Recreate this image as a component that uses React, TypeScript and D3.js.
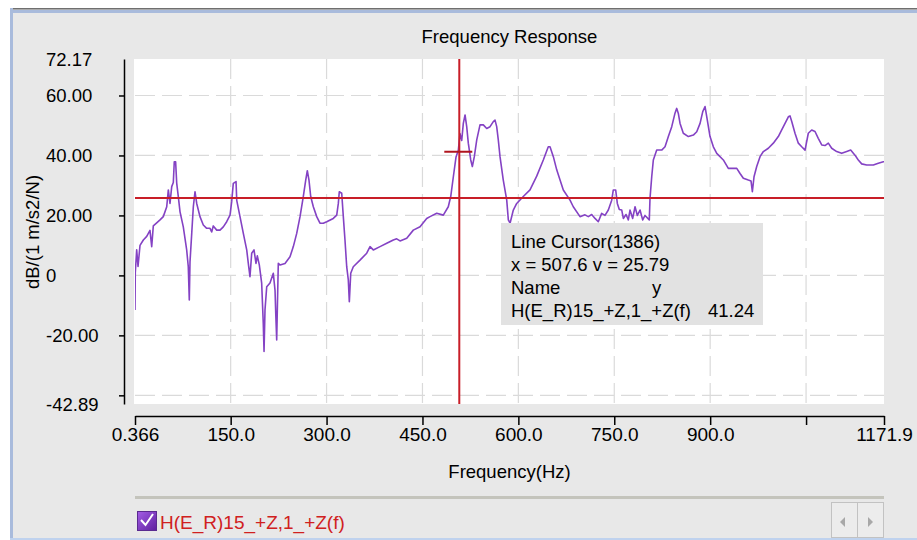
import { useRef, useEffect } from "react";
import * as d3 from "d3";

// frequency response (Hz, dB)
const freq = [
  0.37, 0.8, 3.0, 5.1, 8.2, 13.4, 18.7, 23.8, 26.5, 29.0,
  34.3, 39.5, 44.6, 50.0, 52.5, 55.1, 57.8, 60.3, 61.8, 63.9,
  65.6, 68.1, 70.8, 75.9, 81.2, 83.7, 85.3, 86.4, 89.1, 91.6,
  94.2, 96.9, 102.0, 107.2, 112.5, 117.7, 120.3, 122.8, 128.2, 133.3,
  138.5, 143.8, 149.0, 151.6, 154.1, 158.4, 159.5, 164.6, 169.8, 175.1,
  177.6, 180.2, 182.9, 186.5, 189.6, 191.7, 194.8, 198.5, 201.0, 202.2,
  203.7, 206.4, 211.5, 216.7, 219.4, 220.5, 222.0, 224.5, 227.2, 235.0,
  242.8, 248.0, 253.3, 258.5, 263.6, 267.4, 269.9, 272.5, 275.2, 279.3,
  284.6, 289.7, 294.9, 300.2, 310.5, 315.9, 318.4, 319.9, 323.7, 326.2,
  328.8, 331.5, 334.0, 335.6, 337.8, 341.8, 352.3, 362.8, 368.0, 373.1,
  383.6, 394.1, 404.4, 409.7, 414.9, 425.4, 435.7, 446.2, 456.6, 461.8,
  472.3, 482.6, 490.4, 494.2, 498.3, 502.5, 506.1, 508.7, 511.4, 513.9,
  516.6, 519.2, 521.7, 525.5, 528.0, 531.1, 534.9, 540.0, 545.2, 550.5,
  555.7, 560.8, 563.5, 566.1, 568.6, 571.3, 576.4, 581.8, 584.3, 587.0,
  592.1, 597.4, 607.7, 618.2, 628.7, 639.0, 646.8, 649.5, 654.7, 660.0,
  665.2, 670.3, 680.8, 685.9, 696.4, 704.2, 709.4, 714.7, 719.9, 725.0,
  730.3, 735.5, 740.7, 746.0, 748.5, 752.2, 754.8, 757.9, 761.7, 764.2,
  768.4, 772.0, 774.6, 778.8, 782.5, 786.1, 790.3, 794.5, 798.1, 804.8,
  805.9, 808.6, 811.1, 816.4, 824.2, 829.4, 834.6, 839.9, 845.0, 847.7,
  850.2, 852.9, 858.0, 865.9, 873.7, 879.0, 884.2, 888.4, 892.0, 894.7,
  899.8, 905.0, 910.3, 920.6, 928.4, 941.6, 946.7, 951.9, 959.7, 963.9,
  966.0, 968.6, 972.8, 978.0, 983.2, 991.0, 998.8, 1006.6, 1011.9, 1017.1,
  1022.3, 1024.9, 1027.6, 1032.7, 1037.9, 1043.2, 1048.4, 1053.5, 1058.8, 1064.0,
  1069.1, 1074.5, 1079.6, 1084.8, 1090.1, 1097.9, 1105.7, 1113.6, 1119.8, 1126.5,
  1131.7, 1137.0, 1144.8, 1155.2, 1163.0, 1170.8, 1171.9,
];

const level = [
  -11.5, 0.8, 8.5, 3, 10, 11.8, 13, 15, 9.6, 16.5,
  17.5, 18.5, 19.6, 22.9, 28.5, 24, 29.6, 31, 37.9, 37.9,
  30.8, 26.3, 21.2, 16.2, 8.5, 2.9, -8.2, 4.5, 14, 22.9,
  27.9, 24, 19.6, 16.8, 15.7, 15.7, 14.5, 16.5, 15.1, 15.1,
  16.2, 17.9, 20.1, 24.6, 30.7, 31.3, 25, 19.6, 14, 8.5,
  4, -0.4, 7.4, 8.5, 4, 6.5, 3.5, -2.6, -16, -25.4,
  -11.5, -3.8, -2.5, 0.7, -5, -12.6, -21.5, 4, 3.5, 4,
  6.2, 9.6, 14, 19.6, 26.3, 31.8, 34.9, 31.8, 26.3, 22.9,
  19.6, 17.4, 17.4, 17.9, 19, 20.1, 24, 27.9, 27.4, 19.6,
  11.8, 2.9, -1.5, -8.8, 0.7, 2.9, 5.1, 7.4, 9.6, 8.5,
  9.6, 10.7, 11.8, 12.2, 11.5, 12.4, 15.1, 16.2, 19, 19.6,
  20.7, 20.1, 22.9, 26.3, 32.9, 39.5, 41.7, 47.3, 45, 50.7,
  53.5, 49.6, 44.1, 38.5, 36.3, 39.6, 45.2, 50.2, 50.2, 49,
  49.6, 51.3, 51.8, 49.6, 45.2, 39.6, 31.8, 25.1, 18.5, 17.4,
  21.8, 24, 26.3, 28.5, 33.1, 38.5, 42.9, 42.9, 39.6, 35.2,
  31.8, 28.5, 25.1, 22.9, 19.6, 20.2, 19.6, 20.3, 19, 17.9,
  20.7, 20, 21.8, 25.1, 28.5, 28.5, 24, 22, 21.8, 19,
  20.3, 18.5, 21.8, 19, 22.9, 20, 21.8, 18.5, 20, 18.5,
  25.7, 32.9, 38.5, 41.8, 41.8, 42.9, 46.3, 49.6, 54.1, 55.7,
  54, 50.7, 47.4, 46.3, 46.8, 47.9, 50.7, 54.6, 56.3, 52.9,
  46.3, 42.9, 40.7, 38.5, 35.7, 35.7, 34, 32.4, 31.8, 31.5,
  27.9, 32.9, 36.3, 39.6, 41.3, 42.4, 44.1, 46.3, 48.5, 50.7,
  52.9, 53.2, 51.3, 47.4, 44.1, 42.9, 41.8, 47.4, 48.5, 48,
  45.7, 43.5, 43.3, 44.1, 42.4, 41.3, 40.7, 41.3, 41.8, 40.1,
  38.5, 37.2, 36.8, 36.8, 37.4, 37.9, 37.9,
];

const xDomain = [0.366, 1171.9];
const yDomain = [-42.89, 72.17];
const xTicks = [0.366, 150, 300, 450, 600, 750, 900, 1050, 1171.9];
const xTickLabels = ["0.366", "150.0", "300.0", "450.0", "600.0", "750.0", "900.0", "", "1171.9"];
const yTicks = [60, 40, 20, 0, -20, -40];
const yLabelValues = [72.17, 60, 40, 20, 0, -20, -42.89];
const yTickLabels = ["72.17", "60.00", "40.00", "20.00", "0", "-20.00", "-42.89"];

const cursorX = 507.6;
const cursorY = 25.79;
const cursorValue = 41.24;
const cursorIndex = 1386;
const seriesName = "H(E_R)15_+Z,1_+Z(f)";

const W = 917;
const H = 540;
const FONT = '"Liberation Sans", Arial, sans-serif';
const plot = { left: 135, right: 884, top: 59, bottom: 404 };

function FrequencyResponse() {
  const svgRef = useRef(null);

  useEffect(() => {
    d3.select("body").style("margin", "0");
    const svg = d3.select(svgRef.current);
    svg.selectAll("*").remove();
    svg.attr("width", W).attr("height", H).style("display", "block").style("font-family", FONT);

    const x = d3.scaleLinear().domain(xDomain).range([plot.left, plot.right]);
    const y = d3.scaleLinear().domain(yDomain).range([plot.bottom, plot.top]);

    // window frame
    svg.append("rect").attr("width", W).attr("height", H).attr("fill", "#ffffff");
    svg.append("rect").attr("x", 10).attr("y", 8).attr("width", W - 10).attr("height", H - 8).attr("fill", "#e8e8e8");
    svg.append("rect").attr("x", 10).attr("y", 8).attr("width", W - 10).attr("height", 1.5).attr("fill", "#6f6f6f");
    svg.append("rect").attr("x", 10).attr("y", 10).attr("width", W - 10).attr("height", 3).attr("fill", "#a9bbdc");
    svg.append("rect").attr("x", 10).attr("y", 8).attr("width", 3).attr("height", H - 8).attr("fill", "#a9bbdc");
    svg.append("rect").attr("x", 10).attr("y", H - 2).attr("width", W - 10).attr("height", 2).attr("fill", "#bfd2ee");

    // title
    svg.append("text")
      .attr("x", (plot.left + plot.right) / 2)
      .attr("y", 43)
      .attr("text-anchor", "middle")
      .attr("font-size", 18.5)
      .attr("fill", "#000")
      .text("Frequency Response");

    // plot area + grid
    svg.append("rect")
      .attr("x", plot.left - 1)
      .attr("y", plot.top)
      .attr("width", plot.right - plot.left + 1)
      .attr("height", plot.bottom - plot.top)
      .attr("fill", "#ffffff");

    const grid = svg.append("g").attr("stroke", "#dadada").attr("stroke-width", 1.2).attr("stroke-dasharray", "20,7");
    grid.selectAll(".gx")
      .data(xTicks.slice(1, -1))
      .join("line")
      .attr("class", "gx")
      .attr("x1", (d) => x(d))
      .attr("x2", (d) => x(d))
      .attr("y1", plot.top)
      .attr("y2", plot.bottom);
    grid.selectAll(".gy")
      .data(yTicks)
      .join("line")
      .attr("class", "gy")
      .attr("x1", plot.left)
      .attr("x2", plot.right)
      .attr("y1", (d) => y(d))
      .attr("y2", (d) => y(d));

    // x axis
    svg.append("g")
      .attr("transform", "translate(0,416)")
      .call(
        d3.axisBottom(x)
          .tickValues(xTicks)
          .tickSize(9)
          .tickSizeOuter(0)
          .tickPadding(3)
          .tickFormat((d, i) => xTickLabels[i])
      )
      .call((g) => g.attr("font-family", FONT).attr("font-size", 19))
      .call((g) => g.select(".domain").attr("stroke", "#000").attr("stroke-width", 1.5))
      .call((g) => g.selectAll(".tick line").attr("stroke", "#000").attr("stroke-width", 1.5))
      .call((g) => g.selectAll(".tick text").attr("fill", "#000"));

    // y axis (labels are left aligned in the original)
    svg.append("g")
      .attr("transform", "translate(124,0)")
      .call(d3.axisLeft(y).tickValues(yTicks).tickSize(5).tickSizeOuter(0).tickFormat(() => ""))
      .call((g) => g.select(".domain").attr("stroke", "#000").attr("stroke-width", 1.5))
      .call((g) => g.selectAll(".tick line").attr("stroke", "#000").attr("stroke-width", 1.5));

    svg.append("g")
      .selectAll("text")
      .data(yLabelValues)
      .join("text")
      .attr("x", 46)
      .attr("y", (d) => y(d) + 7)
      .attr("font-size", 18.5)
      .attr("fill", "#000")
      .text((d, i) => yTickLabels[i]);

    svg.append("text")
      .attr("transform", "translate(39,232) rotate(-90)")
      .attr("text-anchor", "middle")
      .attr("font-size", 18.5)
      .attr("fill", "#000")
      .text("dB/(1 m/s2/N)");

    svg.append("text")
      .attr("x", (plot.left + plot.right) / 2)
      .attr("y", 478)
      .attr("text-anchor", "middle")
      .attr("font-size", 18.5)
      .attr("fill", "#000")
      .text("Frequency(Hz)");

    // curve
    svg.append("clipPath")
      .attr("id", "plot-clip")
      .append("rect")
      .attr("x", plot.left)
      .attr("y", plot.top)
      .attr("width", plot.right - plot.left)
      .attr("height", plot.bottom - plot.top);

    const line = d3.line()
      .x((d) => x(d[0]))
      .y((d) => y(d[1]));

    svg.append("path")
      .datum(d3.zip(freq, level))
      .attr("clip-path", "url(#plot-clip)")
      .attr("fill", "none")
      .attr("stroke", "#8442c4")
      .attr("stroke-width", 1.6)
      .attr("stroke-linejoin", "round")
      .attr("d", line);

    // line cursor
    const red = "#c81e28";
    svg.append("line")
      .attr("x1", plot.left).attr("x2", plot.right)
      .attr("y1", y(cursorY)).attr("y2", y(cursorY))
      .attr("stroke", red).attr("stroke-width", 2);
    svg.append("line")
      .attr("x1", x(cursorX)).attr("x2", x(cursorX))
      .attr("y1", plot.top).attr("y2", plot.bottom)
      .attr("stroke", red).attr("stroke-width", 2);
    svg.append("line")
      .attr("x1", x(cursorX) - 15).attr("x2", x(cursorX) + 13)
      .attr("y1", y(cursorValue)).attr("y2", y(cursorValue))
      .attr("stroke", "#b0141e").attr("stroke-width", 2);

    // cursor readout
    const box = svg.append("g").attr("font-size", 18.5).attr("fill", "#000");
    box.append("rect")
      .attr("x", 501).attr("y", 223).attr("width", 262).attr("height", 102)
      .attr("fill", "#e2e2e2");
    box.append("text").attr("x", 511).attr("y", 247.5).text(`Line Cursor(${cursorIndex})`);
    box.append("text").attr("x", 511).attr("y", 270.5).text(`x = ${cursorX} v = ${cursorY}`);
    box.append("text").attr("x", 511).attr("y", 293.5).text("Name");
    box.append("text").attr("x", 652).attr("y", 293.5).text("y");
    box.append("text").attr("x", 511).attr("y", 316.5).text(seriesName);
    box.append("text").attr("x", 708).attr("y", 316.5).text(cursorValue.toFixed(2));

    // legend strip
    svg.append("rect").attr("x", plot.left).attr("y", 496).attr("width", plot.right - plot.left).attr("height", 3).attr("fill", "#c4c4bc");

    const grad = svg.append("linearGradient").attr("id", "chk").attr("x1", 0).attr("y1", 0).attr("x2", 1).attr("y2", 1);
    grad.append("stop").attr("offset", "0%").attr("stop-color", "#a45ee6");
    grad.append("stop").attr("offset", "100%").attr("stop-color", "#5e1f9e");
    svg.append("rect").attr("x", 137.5).attr("y", 511.5).attr("width", 19).attr("height", 19).attr("fill", "url(#chk)").attr("stroke", "#5a2a90");
    svg.append("path")
      .attr("d", "M141,520 L145.5,525 L153,514")
      .attr("fill", "none").attr("stroke", "#ffffff").attr("stroke-width", 2);
    svg.append("text")
      .attr("x", 160)
      .attr("y", 529)
      .attr("font-size", 19)
      .attr("fill", "#d02020")
      .text(seriesName);

    const scroll = svg.append("g");
    scroll.append("rect").attr("x", 831.5).attr("y", 502.5).attr("width", 52).attr("height", 35).attr("fill", "#ececec").attr("stroke", "#c2c2c2");
    scroll.append("line").attr("x1", 857.5).attr("x2", 857.5).attr("y1", 503).attr("y2", 537).attr("stroke", "#c2c2c2");
    scroll.append("path").attr("d", "M840,522 L845,517 L845,527 Z").attr("fill", "#a8a8a8");
    scroll.append("path").attr("d", "M868,517 L873,522 L868,527 Z").attr("fill", "#a8a8a8");
  }, []);

  return <svg ref={svgRef} />;
}

export default function App() {
  return <FrequencyResponse />;
}
